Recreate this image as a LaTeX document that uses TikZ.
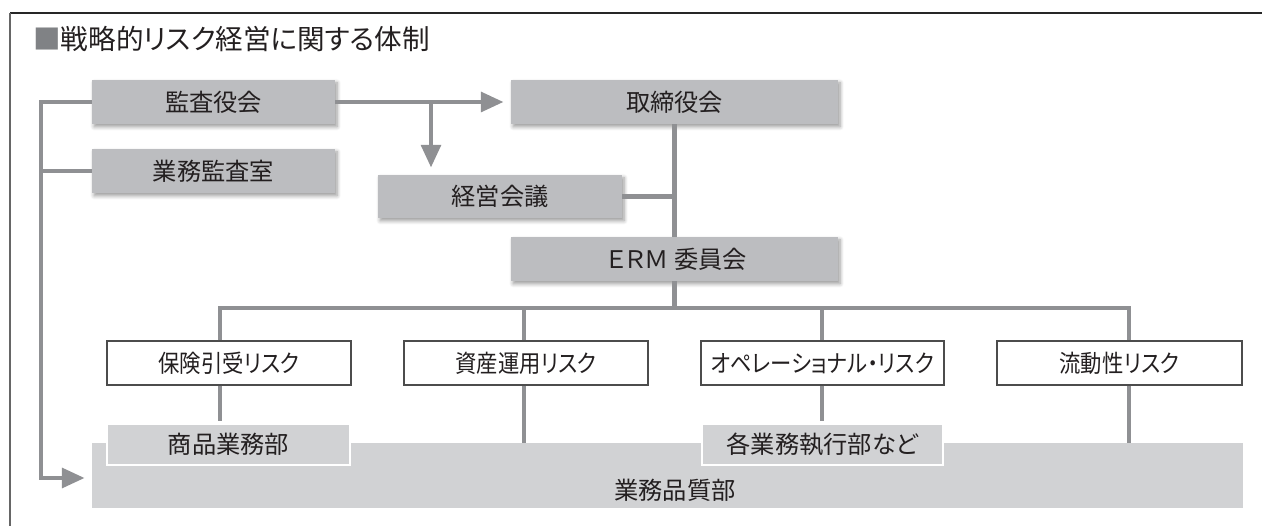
\documentclass[tikz,border=0pt]{standalone}
\usepackage{fontspec}
\setmainfont{Noto Sans CJK JP}[RawFeature={+palt}]
\usetikzlibrary{arrows.meta,shadows.blur}

\definecolor{boxgray}{HTML}{BCBDC0}
\definecolor{lightgray}{HTML}{D1D2D4}
\definecolor{linegray}{HTML}{8F9093}
\definecolor{textgray}{HTML}{231F20}
\definecolor{markgray}{HTML}{808285}

\begin{document}
\begin{tikzpicture}[x=0.02cm,y=-0.02cm,
	organ/.style={fill=boxgray, text=textgray, inner sep=0pt, minimum width=4.86cm, minimum height=0.88cm,
		font=\fontsize{13.8pt}{15pt}\selectfont,
		blur shadow={shadow xshift=1.2pt, shadow yshift=-1.6pt, shadow blur steps=6}},
	risk/.style={draw=black!70, line width=0.8pt, fill=white, text=textgray, inner sep=0pt,
		minimum width=4.88cm, minimum height=0.88cm,
		font=\fontsize{13.8pt}{15pt}\selectfont\addfontfeature{FakeStretch=0.88}},
	dept/.style={draw=white, line width=1.2pt, fill=lightgray, text=textgray, inner sep=0pt,
		minimum width=4.86cm, minimum height=0.82cm, font=\fontsize{13.8pt}{15pt}\selectfont},
	conn/.style={draw=linegray, line width=2.83pt},
	tip/.style={-{Triangle[length=13pt,width=11pt]}, shorten >=0.14cm}]
	\useasboundingbox (0,0) rectangle (1262,526);
	\draw[black!85, line width=0.9pt] (10,13) -- (1262,13);
	\draw[black!60, line width=0.6pt] (10,13) -- (10,526);
	\node[anchor=west, inner sep=0pt, text=textgray, font=\fontsize{15.7pt}{17pt}\selectfont] (title) at (33,39)
		{{\color{markgray}■}戦略的リスク経営に関する体制};
	% upper part
	\node[organ] (kansa) at (213.5,102) {監査役会};
	\node[organ] (gyomu) at (213.5,171) {業務監査室};
	\node[organ, minimum width=6.54cm] (torishimari) at (674.5,102) {取締役会};
	\node[organ, minimum width=4.88cm, minimum height=0.86cm] (keiei) at (500,196.5) {経営会議};
	\node[organ, minimum width=6.54cm] (erm) at (674.5,259) {\hspace{0.1cm}ＥＲＭ 委員会};
	% risks
	\node[risk] (hoken) at (229,363) {保険引受リスク};
	\node[risk] (shisan) at (526,363) {資産運用リスク};
	\node[risk, minimum width=4.86cm] (opera) at (822.5,363) {オペレーショナル・リスク};
	\node[risk, minimum width=4.9cm] (ryudo) at (1119.5,363) {流動性リスク};
	% departments
	\node[fill=lightgray, inner sep=0pt, minimum width=23.02cm, minimum height=1.3cm] (hinshitsu) at (667.5,475.5) {};
	\node[text=textgray, inner sep=0pt, font=\fontsize{13.8pt}{15pt}\selectfont] (hinshitsuL) at (675,490) {業務品質部};
	\node[dept] (shohin) at (228.5,444.5) {商品業務部};
	\node[dept, minimum width=4.82cm] (kaku) at (822.5,444.5) {各業務執行部など};

	\coordinate (lf) at (41,102);
	\coordinate (lb) at (41,478);
	\coordinate (br) at (431,102);
	\coordinate (b1) at (220,308);
	\coordinate (b2) at (524,308);
	\coordinate (b3) at (822,308);
	\coordinate (b4) at (1129,308);

	\draw[conn,tip] (kansa.west) -- (lf) -- (lb) -- (lb -| hinshitsu.west);
	\draw[conn] (gyomu.west) -- (gyomu.west -| lf);
	\draw[conn,tip] (kansa) -- (torishimari);
	\draw[conn,tip] (br) -- (br |- keiei.north);
	\draw[conn] (keiei) -- (keiei -| torishimari);
	\draw[conn] (torishimari) -- (erm);
	\draw[conn] (erm) -- (erm |- b1);
	\draw[conn] (b1 |- hoken.north) -- (b1) -- (b4) -- (b4 |- ryudo.north);
	\draw[conn] (b2) -- (b2 |- shisan.north);
	\draw[conn] (b3) -- (b3 |- opera.north);
	\draw[conn, shorten >=0.04cm] (b1 |- hoken.south) -- (b1 |- shohin.north);
	\draw[conn] (b2 |- shisan.south) -- (b2 |- hinshitsu.north);
	\draw[conn, shorten >=0.04cm] (b3 |- opera.south) -- (b3 |- kaku.north);
	\draw[conn] (b4 |- ryudo.south) -- (b4 |- hinshitsu.north);
\end{tikzpicture}
\end{document}
